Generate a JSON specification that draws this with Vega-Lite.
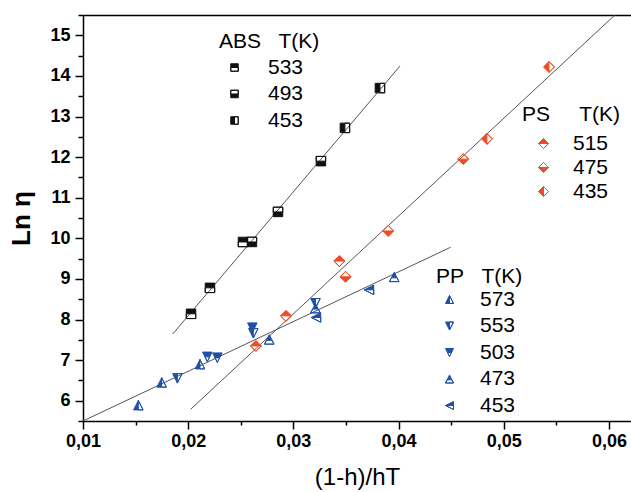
{
  "$schema": "https://vega.github.io/schema/vega-lite/v6.json",
  "width": 548,
  "height": 406,
  "autosize": {"type": "none"},
  "padding": {"left": 83, "top": 15, "right": 0, "bottom": 71},
  "background": "white",
  "view": {"stroke": null},
  "config": {
    "font": "Liberation Sans",
    "axis": {"domainColor": "black", "domainWidth": 1.5, "tickColor": "black", "tickWidth": 1.5, "grid": false, "labelColor": "black", "titleColor": "black"},
    "legend": {"padding": 0, "labelFont": "Liberation Sans", "titleFont": "Liberation Sans", "labelFontSize": 21, "titleFontSize": 21, "titleFontWeight": "normal", "labelColor": "black", "titleColor": "black", "symbolStrokeWidth": 1}
  },
  "datasets": {
    "pts": [
      {"polymer": "ABS", "T": "533", "x": 0.02027, "y": 8.14},
      {"polymer": "ABS", "T": "533", "x": 0.02207, "y": 8.78},
      {"polymer": "ABS", "T": "533", "x": 0.02521, "y": 9.91},
      {"polymer": "ABS", "T": "493", "x": 0.02606, "y": 9.91},
      {"polymer": "ABS", "T": "493", "x": 0.02854, "y": 10.65},
      {"polymer": "ABS", "T": "493", "x": 0.03262, "y": 11.90},
      {"polymer": "ABS", "T": "453", "x": 0.03490, "y": 12.72},
      {"polymer": "ABS", "T": "453", "x": 0.03823, "y": 13.70},
      {"polymer": "PS", "T": "515", "x": 0.02644, "y": 7.35},
      {"polymer": "PS", "T": "515", "x": 0.02930, "y": 8.09},
      {"polymer": "PS", "T": "515", "x": 0.03437, "y": 9.44},
      {"polymer": "PS", "T": "475", "x": 0.03496, "y": 9.05},
      {"polymer": "PS", "T": "475", "x": 0.03902, "y": 10.18},
      {"polymer": "PS", "T": "475", "x": 0.04615, "y": 11.95},
      {"polymer": "PS", "T": "435", "x": 0.04840, "y": 12.45},
      {"polymer": "PS", "T": "435", "x": 0.05430, "y": 14.22},
      {"polymer": "PP", "T": "573", "x": 0.01526, "y": 5.89},
      {"polymer": "PP", "T": "573", "x": 0.01748, "y": 6.45},
      {"polymer": "PP", "T": "573", "x": 0.02112, "y": 6.90},
      {"polymer": "PP", "T": "553", "x": 0.01897, "y": 6.55},
      {"polymer": "PP", "T": "553", "x": 0.02619, "y": 7.66},
      {"polymer": "PP", "T": "553", "x": 0.03210, "y": 8.40},
      {"polymer": "PP", "T": "503", "x": 0.02182, "y": 7.08},
      {"polymer": "PP", "T": "503", "x": 0.02277, "y": 7.06},
      {"polymer": "PP", "T": "503", "x": 0.02610, "y": 7.80},
      {"polymer": "PP", "T": "473", "x": 0.02771, "y": 7.51},
      {"polymer": "PP", "T": "473", "x": 0.03210, "y": 8.28},
      {"polymer": "PP", "T": "473", "x": 0.03959, "y": 9.05},
      {"polymer": "PP", "T": "453", "x": 0.03215, "y": 8.05},
      {"polymer": "PP", "T": "453", "x": 0.03719, "y": 8.73}
    ],
    "fits": [
      {"line": "ABS", "x": 0.01852, "y": 7.64},
      {"line": "ABS", "x": 0.04013, "y": 14.24},
      {"line": "PS", "x": 0.02024, "y": 5.79},
      {"line": "PS", "x": 0.06057, "y": 15.5},
      {"line": "PP", "x": 0.01, "y": 5.5},
      {"line": "PP", "x": 0.04495, "y": 9.78}
    ]
  },
  "resolve": {"scale": {"shape": "independent"}, "axis": {"x": "independent", "y": "independent"}},
  "layer": [
    {
      "data": {"name": "fits"},
      "mark": {"type": "line", "color": "#555555", "strokeWidth": 1, "clip": true},
      "encoding": {
        "x": {"field": "x", "type": "quantitative", "scale": {"domain": [0.01, 0.0621], "nice": false, "zero": false},
          "axis": {"orient": "bottom", "values": [0.01, 0.015, 0.02, 0.025, 0.03, 0.035, 0.04, 0.045, 0.05, 0.055, 0.06],
            "labelExpr": "abs(datum.value*100 - round(datum.value*100)) < 0.001 ? replace(format(datum.value, '.2f'), '.', ',') : ''",
            "tickSize": {"condition": {"test": "abs(datum.value*100 - round(datum.value*100)) < 0.001", "value": 8}, "value": 4},
            "labelFont": "Liberation Sans", "labelFontSize": 18, "labelFontWeight": "bold", "labelPadding": 3, "labelOverlap": false, "labelFlush": false,
            "title": "(1-h)/hT", "titleFont": "Liberation Sans", "titleFontSize": 24, "titleFontWeight": "normal", "titlePadding": 15}},
        "y": {"field": "y", "type": "quantitative", "scale": {"domain": [5.5, 15.5], "nice": false, "zero": false},
          "axis": {"orient": "left", "values": [5.5, 6, 6.5, 7, 7.5, 8, 8.5, 9, 9.5, 10, 10.5, 11, 11.5, 12, 12.5, 13, 13.5, 14, 14.5, 15, 15.5],
            "labelExpr": "abs(datum.value - round(datum.value)) < 0.01 ? format(datum.value, 'd') : ''",
            "tickSize": {"condition": {"test": "abs(datum.value - round(datum.value)) < 0.01", "value": 8}, "value": 5},
            "labelFont": "Liberation Sans", "labelFontSize": 18, "labelFontWeight": "bold", "labelPadding": 5, "labelOverlap": false, "labelFlush": false,
            "title": "Ln η", "titleFont": "Liberation Sans", "titleFontSize": 26, "titleFontWeight": "bold", "titlePadding": 15}},
        "detail": {"field": "line"}
      }
    },
    {
      "data": {"name": "pts"},
      "transform": [{"filter": "datum.polymer == 'ABS'"}],
      "mark": {"type": "point", "filled": true, "opacity": 1, "fill": "#111111", "stroke": "#111111", "strokeWidth": 1, "size": 90},
      "encoding": {
        "x": {"field": "x", "type": "quantitative", "axis": {"orient": "top", "labels": false, "ticks": false, "title": null, "domain": true}},
        "y": {"field": "y", "type": "quantitative", "axis": null},
        "shape": {"field": "T", "type": "nominal",
          "scale": {"domain": ["533", "493", "453"], "range": [
            "M-1,-1L1,-1L1,1L-1,1ZM-1,0L-1,1L1,1L1,0Z",
            "M-1,-1L1,-1L1,1L-1,1ZM-1,-1L-1,0L1,0L1,-1Z",
            "M-1,-1L1,-1L1,1L-1,1ZM0,-1L0,1L1,1L1,-1Z"]},
          "legend": {"title": "ABS\u00a0\u00a0\u00a0T(K)", "orient": "none", "legendX": 136, "legendY": 16, "symbolSize": 56, "symbolOffset": 5, "labelOffset": 23, "rowPadding": 4.5, "titlePadding": 5,
            "encode": {"symbols": {"update": {"fill": {"value": "#111111"}, "stroke": {"value": "#111111"}, "strokeWidth": {"value": 1}, "opacity": {"value": 1}}}}}}
      }
    },
    {
      "data": {"name": "pts"},
      "transform": [{"filter": "datum.polymer == 'PS'"}],
      "mark": {"type": "point", "filled": true, "opacity": 1, "fill": "#ee4b26", "stroke": "#ee4b26", "strokeWidth": 1, "size": 120},
      "encoding": {
        "x": {"field": "x", "type": "quantitative", "axis": null},
        "y": {"field": "y", "type": "quantitative", "axis": null},
        "shape": {"field": "T", "type": "nominal",
          "scale": {"domain": ["515", "475", "435"], "range": [
            "M0,-1L1,0L0,1L-1,0ZM-1,0L0,1L1,0Z",
            "M0,-1L1,0L0,1L-1,0ZM-1,0L1,0L0,-1Z",
            "M0,-1L1,0L0,1L-1,0ZM0,-1L0,1L1,0Z"]},
          "legend": {"title": "PS\u00a0\u00a0\u00a0\u00a0\u00a0T(K)", "orient": "none", "legendX": 439, "legendY": 89, "symbolSize": 100, "symbolOffset": 11, "labelOffset": 19, "rowPadding": 2, "titlePadding": 8,
            "encode": {"symbols": {"update": {"fill": {"value": "#ee4b26"}, "stroke": {"value": "#ee4b26"}, "strokeWidth": {"value": 1}, "opacity": {"value": 1}}}}}}
      }
    },
    {
      "data": {"name": "pts"},
      "transform": [{"filter": "datum.polymer == 'PP'"}],
      "mark": {"type": "point", "filled": true, "opacity": 1, "fill": "#1f50a5", "stroke": "#1f50a5", "strokeWidth": 1, "size": 90},
      "encoding": {
        "x": {"field": "x", "type": "quantitative", "axis": null},
        "y": {"field": "y", "type": "quantitative", "axis": null},
        "shape": {"field": "T", "type": "nominal",
          "scale": {"domain": ["573", "553", "503", "473", "453"], "range": [
            "M0,-1L1,1L-1,1ZM0,-1L0,1L1,1Z",
            "M0,1L-1,-1L1,-1ZM0,1L1,-1L0,-1Z",
            "M0,1L-1,-1L1,-1ZM-0.5,0L0,1L0.5,0Z",
            "M0,-1L1,1L-1,1ZM-0.6,0.2L-1,1L1,1L0.6,0.2Z",
            "M-1,0L1,-1L1,1ZM-1,0L1,1L1,0Z"]},
          "legend": {"title": "PP\u00a0\u00a0\u00a0T(K)", "orient": "none", "legendX": 353, "legendY": 251, "symbolSize": 64, "symbolOffset": 3, "labelOffset": 20, "rowPadding": 4.5, "titlePadding": 2,
            "encode": {"symbols": {"update": {"fill": {"value": "#1f50a5"}, "stroke": {"value": "#1f50a5"}, "strokeWidth": {"value": 1}, "opacity": {"value": 1}}}}}}
      }
    }
  ]
}
